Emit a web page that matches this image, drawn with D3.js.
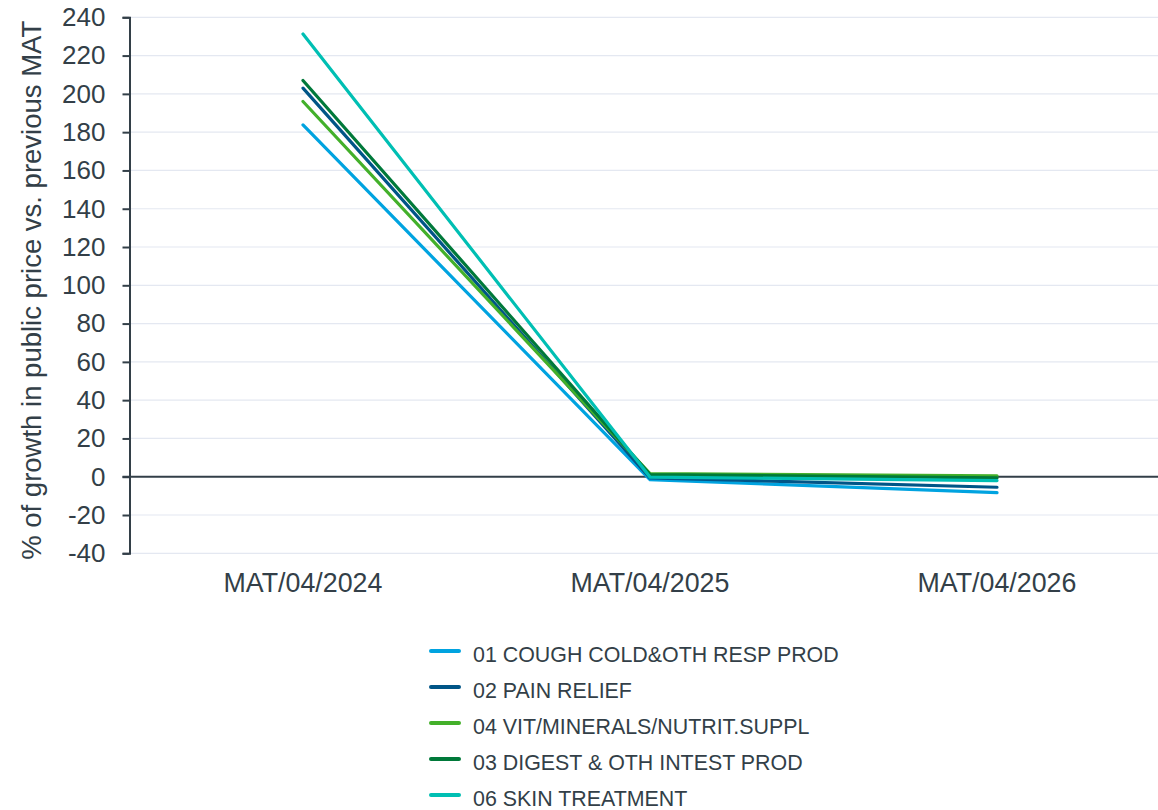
<!DOCTYPE html>
<html>
<head>
<meta charset="utf-8">
<script src="https://cdn.jsdelivr.net/npm/d3@7"></script>
<style>
  html, body { margin: 0; padding: 0; background: #ffffff; }
  svg { display: block; font-family: "Liberation Sans", Arial, sans-serif; }
</style>
</head>
<body>
<svg id="chart" width="1158" height="810"></svg>
<script>
// Periods on the x axis
const periods = ["MAT/04/2024", "MAT/04/2025", "MAT/04/2026"];

// Series, in legend / drawing order
const seriesNames = [
  "01 COUGH COLD&OTH RESP PROD",
  "02 PAIN RELIEF",
  "04 VIT/MINERALS/NUTRIT.SUPPL",
  "03 DIGEST & OTH INTEST PROD",
  "06 SKIN TREATMENT"
];
const coughCold   = [183.8, -1.5, -8.3];
const painRelief  = [203.0, -0.6, -5.5];
const vitMinerals = [196.0,  1.6,  0.5];
const digest      = [207.0,  1.1, -0.6];
const skin        = [231.3, -0.2, -2.0];
const seriesValues = [coughCold, painRelief, vitMinerals, digest, skin];

const seriesColors = ["#00A3E0", "#005587", "#43B02A", "#00793A", "#00BFB3"];

// Y axis ticks
const yTicks = [-40, -20, 0, 20, 40, 60, 80, 100, 120, 140, 160, 180, 200, 220, 240];
const yTitle = "% of growth in public price vs. previous MAT";

const textColor = "#333F48";
const gridColor = "#E4E8F1";

const svg = d3.select("#chart");
const plot = { left: 129.5, right: 1170.5, top: 17.3, bottom: 553.3 };

const x = d3.scaleBand().domain(periods).range([plot.left, plot.right]);
const y = d3.scaleLinear().domain([-40, 240]).range([plot.bottom, plot.top]);

// Horizontal gridlines
svg.append("g")
  .selectAll("line")
  .data(yTicks.filter(t => t !== 0))
  .join("line")
  .attr("x1", plot.left)
  .attr("x2", 1158)
  .attr("y1", d => y(d))
  .attr("y2", d => y(d))
  .attr("stroke", gridColor)
  .attr("stroke-width", 1.2);

// Y axis
const yAxis = svg.append("g")
  .attr("transform", `translate(${plot.left},0)`)
  .call(d3.axisLeft(y).tickValues(yTicks).tickSize(7).tickPadding(17).tickFormat(d => String(d)));
yAxis.select(".domain").attr("stroke", textColor).attr("stroke-width", 2);
yAxis.selectAll(".tick line").attr("stroke", textColor).attr("stroke-width", 2);
yAxis.selectAll(".tick text")
  .attr("fill", textColor)
  .style("font-size", "26px")
  .style("font-family", "'Liberation Sans', Arial, sans-serif");

// Zero line
svg.append("line")
  .attr("x1", plot.left - 7)
  .attr("x2", 1158)
  .attr("y1", y(0))
  .attr("y2", y(0))
  .attr("stroke", textColor)
  .attr("stroke-width", 2);

// X axis labels
svg.append("g")
  .selectAll("text")
  .data(periods)
  .join("text")
  .attr("x", d => x(d) + x.bandwidth() / 2)
  .attr("y", 592)
  .attr("text-anchor", "middle")
  .attr("fill", textColor)
  .style("font-size", "26.8px")
  .text(d => d);

// Y axis title
svg.append("text")
  .attr("transform", `translate(41,${(plot.top + plot.bottom) / 2 + 5}) rotate(-90)`)
  .attr("text-anchor", "middle")
  .attr("fill", textColor)
  .style("font-size", "27.5px")
  .text(yTitle);

// Lines
const line = d3.line()
  .x((d, i) => x(periods[i]) + x.bandwidth() / 2)
  .y(d => y(d));

svg.append("g")
  .selectAll("path")
  .data(seriesValues)
  .join("path")
  .attr("d", d => line(d))
  .attr("fill", "none")
  .attr("stroke", (d, i) => seriesColors[i])
  .attr("stroke-width", 3.2)
  .attr("stroke-linecap", "round")
  .attr("stroke-linejoin", "miter");

// Legend
const legend = svg.append("g");
const rows = legend.selectAll("g")
  .data(seriesNames)
  .join("g")
  .attr("transform", (d, i) => `translate(431,${651 + i * 36})`);
rows.append("line")
  .attr("x1", 0).attr("x2", 28)
  .attr("y1", 0).attr("y2", 0)
  .attr("stroke", (d, i) => seriesColors[i])
  .attr("stroke-width", 4)
  .attr("stroke-linecap", "round");
rows.append("text")
  .attr("x", 42)
  .attr("y", 3)
  .attr("dy", "0.36em")
  .attr("fill", textColor)
  .style("font-size", "21.4px")
  .text(d => d);
</script>
</body>
</html>
